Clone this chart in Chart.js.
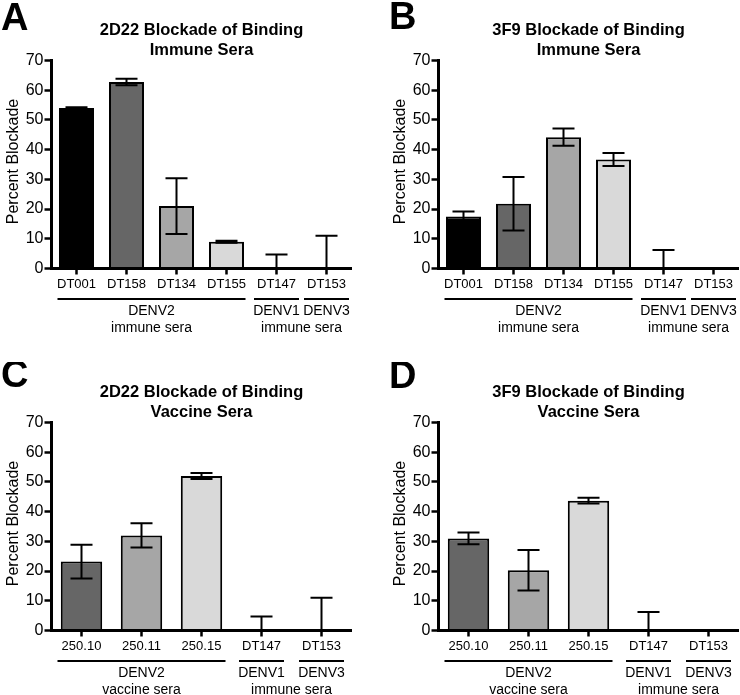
<!DOCTYPE html>
<html>
<head>
<meta charset="utf-8">
<script src="https://cdn.jsdelivr.net/npm/chart.js@4"></script>
<style>
body { margin: 0; background: #fff; }
#wrap { position: relative; width: 740px; height: 695px; overflow: hidden; }
canvas { position: absolute; }
</style>
</head>
<body>
<div id="wrap">
  <canvas id="panelA" width="370" height="340" style="left:0;top:0"></canvas>
  <canvas id="panelB" width="370" height="340" style="left:387px;top:0"></canvas>
  <canvas id="panelC" width="370" height="340" style="left:0;top:362px"></canvas>
  <canvas id="panelD" width="370" height="340" style="left:387px;top:362px"></canvas>
</div>
<script>
// categories
const immuneLabels = ["DT001", "DT158", "DT134", "DT155", "DT147", "DT153"];
const vaccineLabels = ["250.10", "250.11", "250.15", "DT147", "DT153"];
const immuneColors = ["#000000", "#666666", "#a6a6a6", "#d9d9d9", "#ffffff", "#ffffff"];
const vaccineColors = ["#666666", "#a6a6a6", "#d9d9d9", "#ffffff", "#ffffff"];

// values (percent blockade) and error (+/-)
const immune2D22 = [54, 62.8, 21, 9, 0, 0];
const immune2D22Err = [0.3, 1.1, 9.4, 0.3, 4.7, 11];
const immune3F9 = [17.5, 21.8, 44.2, 36.7, 0, 0];
const immune3F9Err = [1.7, 9, 2.9, 2.2, 6.2, 0];
const vaccine2D22 = [23.2, 32, 52, 0, 0];
const vaccine2D22Err = [5.7, 4.1, 1, 4.7, 11];
const vaccine3F9 = [31, 20.3, 43.7, 0, 0];
const vaccine3F9Err = [2, 6.8, 1, 6.2, 0];

const yTicks = [0, 10, 20, 30, 40, 50, 60, 70];

// group brackets under the x axis
const immuneGroups = [
  { text: "DENV2", from: 0, to: 3 },
  { text: "DENV1", from: 4, to: 4 },
  { text: "DENV3", from: 5, to: 5 }
];
const immuneSubs = [
  { text: "immune sera", from: 0, to: 3 },
  { text: "immune sera", from: 4, to: 5 }
];
const vaccineGroups = [
  { text: "DENV2", from: 0, to: 2 },
  { text: "DENV1", from: 3, to: 3 },
  { text: "DENV3", from: 4, to: 4 }
];
const vaccineSubs = [
  { text: "vaccine sera", from: 0, to: 2 },
  { text: "immune sera", from: 3, to: 4 }
];

const FONT = "'Liberation Sans', Arial, Helvetica, sans-serif";

const decor = {
  id: "decor",
  afterDatasetsDraw(chart) {
    const p = chart.options.plugins.decor;
    const x = chart.scales.x, y = chart.scales.y;
    const ctx = chart.ctx;
    const data = chart.data.datasets[0].data;
    ctx.save();
    ctx.strokeStyle = "#000";
    ctx.lineWidth = 2;
    p.errors.forEach((e, i) => {
      if (!e) return;
      const v = data[i];
      const cx = x.getPixelForValue(i);
      const top = y.getPixelForValue(v + e);
      const low = Math.max(v - e, 0);
      const bot = y.getPixelForValue(low);
      ctx.beginPath();
      ctx.moveTo(cx, top); ctx.lineTo(cx, bot);
      ctx.moveTo(cx - 11, top); ctx.lineTo(cx + 11, top);
      if (low > 0) { ctx.moveTo(cx - 11, bot); ctx.lineTo(cx + 11, bot); }
      ctx.stroke();
    });
    ctx.restore();
  },
  afterDraw(chart) {
    const p = chart.options.plugins.decor;
    const ctx = chart.ctx;
    const area = chart.chartArea;
    const x = chart.scales.x;
    const midX = (area.left + area.right) / 2;
    ctx.save();
    ctx.fillStyle = "#000";

    // panel letter
    ctx.font = "bold 38px " + FONT;
    ctx.textAlign = "left";
    ctx.textBaseline = "alphabetic";
    ctx.fillText(p.letter, p.letterX, p.letterY);

    // title
    ctx.font = "bold 16.5px " + FONT;
    ctx.textAlign = "center";
    ctx.textBaseline = "middle";
    ctx.fillText(p.title[0], midX, 30);
    ctx.fillText(p.title[1], midX, 50);

    // y axis title
    ctx.save();
    ctx.font = "16px " + FONT;
    ctx.translate(13.5, (area.top + area.bottom) / 2 - 3);
    ctx.rotate(-Math.PI / 2);
    ctx.fillText("Percent Blockade", 0, 0);
    ctx.restore();

    // group brackets
    const lineY = area.bottom + 30.5;
    const half = x.width / x.ticks.length / 2;
    ctx.strokeStyle = "#000";
    ctx.lineWidth = 2;
    ctx.font = "14px " + FONT;
    p.groups.forEach(g => {
      const c0 = x.getPixelForValue(g.from), c1 = x.getPixelForValue(g.to);
      let l, r;
      if (g.from === g.to) { l = c0 - 22.5; r = c0 + 22.5; }
      else { l = c0 - half + 6; r = c1 + half - 6; }
      ctx.beginPath();
      ctx.moveTo(l, lineY); ctx.lineTo(r, lineY);
      ctx.stroke();
      ctx.fillText(g.text, (c0 + c1) / 2, lineY + 12.5);
    });
    p.subs.forEach(s => {
      const c0 = x.getPixelForValue(s.from), c1 = x.getPixelForValue(s.to);
      ctx.fillText(s.text, (c0 + c1) / 2, lineY + 29);
    });
    ctx.restore();
  }
};

function makePanel(id, labels, values, errors, colors, barPct, title, letter, letterX, letterY, groups, subs) {
  new Chart(document.getElementById(id), {
    type: "bar",
    data: {
      labels: labels,
      datasets: [{
        data: values,
        backgroundColor: colors,
        borderColor: "#000",
        borderWidth: 2,
        barPercentage: barPct,
        categoryPercentage: 1
      }]
    },
    options: {
      responsive: false,
      animation: false,
      layout: { padding: { left: 0, right: 18.5, top: 60.5, bottom: 0 } },
      plugins: {
        legend: { display: false },
        title: { display: false },
        tooltip: { enabled: false },
        decor: { errors, title, letter, letterX, letterY, groups, subs }
      },
      scales: {
        x: {
          afterFit: s => { s.height = 71.5; },
          grid: { display: true, drawOnChartArea: false, offset: false, tickLength: 6, tickWidth: 2.5, tickColor: "#000" },
          border: { display: true, color: "#000", width: 3, z: 1 },
          ticks: { color: "#000", font: { family: FONT, size: 13 }, padding: 2, maxRotation: 0, autoSkip: false }
        },
        y: {
          min: 0,
          max: 70,
          afterFit: s => { s.width = 51.5; },
          afterBuildTicks: s => { s.ticks = yTicks.map(v => ({ value: v })); },
          grid: { display: true, drawOnChartArea: false, tickLength: 7, tickWidth: 2.5, tickColor: "#000" },
          border: { display: true, color: "#000", width: 3, z: 1 },
          ticks: { color: "#000", font: { family: FONT, size: 16 }, padding: 1 }
        }
      }
    },
    plugins: [decor]
  });
}

makePanel("panelA", immuneLabels, immune2D22, immune2D22Err, immuneColors, 0.7,
  ["2D22 Blockade of Binding", "Immune Sera"], "A", 1, 30, immuneGroups, immuneSubs);
makePanel("panelB", immuneLabels, immune3F9, immune3F9Err, immuneColors, 0.7,
  ["3F9 Blockade of Binding", "Immune Sera"], "B", 2, 29, immuneGroups, immuneSubs);
makePanel("panelC", vaccineLabels, vaccine2D22, vaccine2D22Err, vaccineColors, 0.69,
  ["2D22 Blockade of Binding", "Vaccine Sera"], "C", 1, 25, vaccineGroups, vaccineSubs);
makePanel("panelD", vaccineLabels, vaccine3F9, vaccine3F9Err, vaccineColors, 0.69,
  ["3F9 Blockade of Binding", "Vaccine Sera"], "D", 2, 26, vaccineGroups, vaccineSubs);
</script>
</body>
</html>
